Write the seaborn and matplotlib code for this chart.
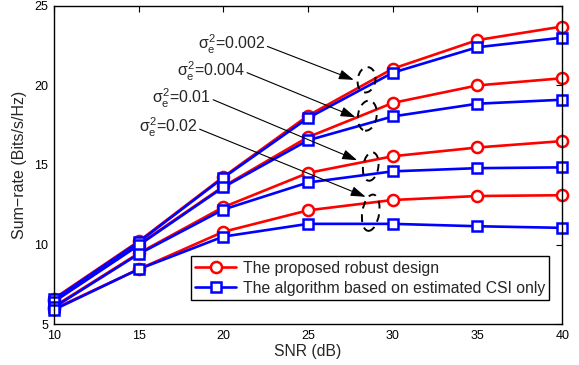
import matplotlib
matplotlib.use("Agg")
import matplotlib.pyplot as plt
from matplotlib.patches import Ellipse
import seaborn as sns
import pandas as pd

snr = [10, 15, 20, 25, 30, 35, 40]
sigmas = ["0.002", "0.004", "0.01", "0.02"]
robust = {
    "0.002": [6.6, 10.2, 14.25, 18.1, 21.05, 22.85, 23.7],
    "0.004": [6.45, 10.0, 13.65, 16.75, 18.9, 20.0, 20.45],
    "0.01": [6.1, 9.45, 12.35, 14.5, 15.55, 16.1, 16.5],
    "0.02": [5.95, 8.45, 10.8, 12.15, 12.8, 13.05, 13.1],
}
estimated = {
    "0.002": [6.55, 10.15, 14.2, 17.95, 20.8, 22.4, 23.0],
    "0.004": [6.4, 9.95, 13.6, 16.55, 18.05, 18.85, 19.1],
    "0.01": [6.05, 9.4, 12.2, 13.9, 14.6, 14.8, 14.85],
    "0.02": [5.9, 8.45, 10.5, 11.3, 11.3, 11.15, 11.05],
}
legend_labels = ["The proposed robust design",
                 "The algorithm based on estimated CSI only"]
xticks = [10, 15, 20, 25, 30, 35, 40]
yticks = [5, 10, 15, 20, 25]

sns.set_style("white")
plt.rcParams['font.family'] = ['Liberation Sans', 'DejaVu Sans']
plt.rcParams['mathtext.fontset'] = 'custom'
plt.rcParams['mathtext.rm'] = 'Liberation Sans'
plt.rcParams['mathtext.it'] = 'Liberation Sans'

fig = plt.figure(figsize=(5.79, 3.65), dpi=100)
ax = fig.add_axes([0.093, 0.112, 0.878, 0.872])

rows = []
for s in sigmas:
    for x, v in zip(snr, robust[s]):
        rows.append(dict(snr=x, rate=v, sigma=s, method=legend_labels[0]))
    for x, v in zip(snr, estimated[s]):
        rows.append(dict(snr=x, rate=v, sigma=s, method=legend_labels[1]))
df = pd.DataFrame(rows)

for s in sigmas:
    d = df[(df.sigma == s) & (df.method == legend_labels[0])]
    sns.lineplot(data=d, x="snr", y="rate", ax=ax, color="#ff0000", lw=1.9,
                 marker="o", markersize=8, markerfacecolor="white",
                 markeredgecolor="#ff0000", markeredgewidth=1.8, legend=False,
                 clip_on=False)
for s in sigmas:
    d = df[(df.sigma == s) & (df.method == legend_labels[1])]
    sns.lineplot(data=d, x="snr", y="rate", ax=ax, color="#0000ff", lw=1.9,
                 marker="s", markersize=6.5, markerfacecolor="white",
                 markeredgecolor="#0000ff", markeredgewidth=1.8, legend=False,
                 clip_on=False)

h_r, = ax.plot([], [], color="#ff0000", lw=1.9, marker="o", markersize=8,
               markerfacecolor="white", markeredgecolor="#ff0000", markeredgewidth=1.8)
h_b, = ax.plot([], [], color="#0000ff", lw=1.9, marker="s", markersize=6.5,
               markerfacecolor="white", markeredgecolor="#0000ff", markeredgewidth=1.8)
leg = ax.legend([h_r, h_b], legend_labels, loc="lower right",
                bbox_to_anchor=(0.975, 0.075), borderaxespad=0, fontsize=11.3,
                frameon=True, fancybox=False, edgecolor="black", framealpha=1,
                handlelength=2.6, borderpad=0.3, labelspacing=0.3,
                handletextpad=0.4)
leg.get_frame().set_linewidth(1.0)
leg.set_zorder(10)

# annotations: ellipses and arrows
ellipses = [(28.45, 20.35, 1.05, 1.6), (28.5, 18.1, 1.1, 1.9),
            (28.7, 14.9, 0.9, 1.8), (28.7, 12.0, 1.0, 2.3)]
for (cx, cy, w, h) in ellipses:
    ax.add_patch(Ellipse((cx, cy), w, h, angle=-8, fill=False, ls=(0, (4, 3)),
                         lw=1.4, edgecolor="black", zorder=5))

texts = [r"$\sigma_e^2$=0.002", r"$\sigma_e^2$=0.004",
         r"$\sigma_e^2$=0.01", r"$\sigma_e^2$=0.02"]
starts = [(22.6, 22.45), (21.4, 20.8), (19.4, 19.1), (18.6, 17.25)]
ends = [(27.7, 20.35), (27.8, 18.0), (27.9, 15.3), (28.4, 13.0)]
for t, st, en in zip(texts, starts, ends):
    ax.annotate("", xy=en, xytext=st,
                arrowprops=dict(arrowstyle="-|>,head_length=0.9,head_width=0.3",
                                color="black", lw=0.8, shrinkA=0, shrinkB=0))
    ax.text(st[0] - 0.1, st[1] + 0.1, t, ha="right", va="center", fontsize=11.5)

ax.set_xlim(10, 40)
ax.set_ylim(5, 25)
ax.set_xticks(xticks)
ax.set_yticks(yticks)
ax.set_xlabel("SNR (dB)", fontsize=11.3, labelpad=2)
ax.set_ylabel("Sum\u2212rate (Bits/s/Hz)", fontsize=11.5, labelpad=5)
ax.tick_params(direction="in", top=True, right=True, length=4, width=0.8,
               labelsize=9, colors="black", pad=4)
for sp in ax.spines.values():
    sp.set_visible(True)
    sp.set_color("black")
    sp.set_linewidth(1.0)

fig.savefig("out.png", dpi=100)
